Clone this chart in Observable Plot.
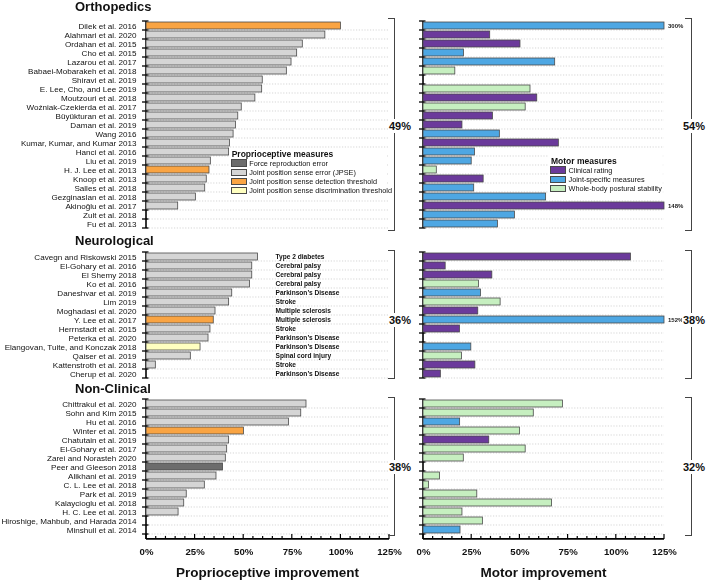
<!DOCTYPE html>
<html><head><meta charset="utf-8">
<script src="https://cdn.jsdelivr.net/npm/d3@7"></script>
<script src="https://cdn.jsdelivr.net/npm/@observablehq/plot@0.6"></script>
<style>
html,body{margin:0;padding:0;background:#fff;}
#chart{position:relative;width:708px;height:582px;overflow:hidden;font-family:"Liberation Sans",Arial,Helvetica,sans-serif;color:#111;opacity:0.999;}
.t{position:absolute;white-space:nowrap;}
</style></head><body><div id="chart"></div>
<script>
// ---------------- DATA ----------------
const sectionNames = ["Orthopedics", "Neurological", "Non-Clinical"];

const orthoStudies = ["Dilek et al. 2016","Alahmari et al. 2020","Ordahan et al. 2015","Cho et al. 2015","Lazarou et al. 2017","Babaei-Mobarakeh et al. 2018","Shiravi et al. 2019","E. Lee, Cho, and Lee 2019","Moutzouri et al. 2018","Woźniak-Czekierda et al. 2017","Büyükturan et al. 2019","Daman et al. 2019","Wang 2016","Kumar, Kumar, and Kumar 2013","Hanci et al. 2016","Liu et al. 2019","H. J. Lee et al. 2013","Knoop et al. 2013","Salles et al. 2018","Gezginaslan et al. 2018","Akinoğlu et al. 2017","Zult et al. 2018","Fu et al. 2013"];
const orthoProp     = [100, 92, 80.4, 77.5, 74.6, 72.2, 59.8, 59.5, 56, 49, 47.2, 46, 44.8, 42.9, 42.5, 33.1, 32.4, 31, 30.2, 25.4, 16.3, null, null];
const orthoPropType = ["D","J","J","J","J","J","J","J","J","J","J","J","J","J","J","J","D","J","J","J","J",null,null];
const orthoMotor     = [300, 34.6, 50.3, 21, 68.3, 16.5, null, 55.5, 59, 53, 36, 20.2, 39.6, 70.2, 26.7, 25, 6.9, 31.2, 26.3, 63.6, 148, 47.4, 38.6];
const orthoMotorType = ["J","C","C","J","J","W",null,"W","C","W","C","C","J","C","J","J","W","C","J","J","C","J","J"];

const neuroStudies = ["Cavegn and Riskowski 2015","El-Gohary et al. 2016","El Shemy 2018","Ko et al. 2016","Daneshvar et al. 2019","Lim 2019","Moghadasi et al. 2020","Y. Lee et al. 2017","Herrnstadt et al. 2015","Peterka et al. 2020","Elangovan, Tuite, and Konczak 2018","Qaiser et al. 2019","Kattenstroth et al. 2018","Cherup et al. 2020"];
const neuroProp     = [57.4, 54.4, 54.4, 53.2, 44.1, 42.5, 35.5, 34.6, 32.9, 31.9, 27.8, 22.8, 4.8, null];
const neuroPropType = ["J","J","J","J","J","J","J","D","J","J","S","J","J",null];
const neuroMotor     = [107.6, 11.5, 35.7, 28.8, 29.8, 40, 28.4, 152, 18.9, null, 24.8, 20, 26.9, 9];
const neuroMotorType = ["C","C","C","W","J","W","C","J","C",null,"J","W","C","C"];
const neuroDiseases  = ["Type 2 diabetes","Cerebral palsy","Cerebral palsy","Cerebral palsy","Parkinson’s Disease","Stroke","Multiple sclerosis","Multiple sclerosis","Stroke","Parkinson’s Disease","Parkinson’s Disease","Spinal cord injury","Stroke","Parkinson’s Disease"];

const nonStudies = ["Chittrakul et al. 2020","Sohn and Kim 2015","Hu et al. 2016","Winter et al. 2015","Chatutain et al. 2019","El-Gohary et al. 2017","Zarei and Norasteh 2020","Peer and Gleeson 2018","Alikhani et al. 2019","C. L. Lee et al. 2018","Park et al. 2019","Kalaycioglu et al. 2018","H. C. Lee et al. 2013","Hiroshige, Mahbub, and Harada 2014","Minshull et al. 2014"];
const nonProp     = [82.3, 79.6, 73.3, 50.1, 42.5, 41.5, 40.8, 39.4, 36, 30, 20.7, 19.4, 16.5, null, null];
const nonPropType = ["J","J","J","D","J","J","J","F","J","J","J","J","J",null,null];
const nonMotor     = [72.3, 57.2, 19, 50, 34.1, 53, 20.9, null, 8.6, 2.9, 27.9, 66.7, 20.2, 30.8, 19.2];
const nonMotorType = ["W","W","J","W","C","W","W",null,"W","W","W","W","W","W","J"];

const propSummary  = ["49%", "36%", "38%"];
const motorSummary = ["54%", "38%", "32%"];

const xTicks = [0, 25, 50, 75, 100, 125];
const propKeys   = ["F","J","D","S"];
const propLabels = ["Force reproduction error","Joint position sense error (JPSE)","Joint position sense detection threshold","Joint position sense discrimination threshold"];
const propColors = ["#6c6c6c","#d5d5d5","#f9a443","#ffffc0"];
const motorKeys   = ["C","J","W"];
const motorLabels = ["Clinical rating","Joint-specific measures","Whole-body postural stability"];
const motorColors = ["#6b3a9b","#4ea7e3","#c6efc0"];
const xTitles = ["Proprioceptive improvement", "Motor improvement"];
const legendTitles = ["Proprioceptive measures", "Motor measures"];

// ---------------- LAYOUT ----------------
const XMAX = 125;
const FONT = '"Liberation Sans", Arial, Helvetica, sans-serif';
const panels = [
  {left: 0,   w: 400, ml: 146, mr: 11, bracketX: 395.5, labelX: 400},
  {left: 400, w: 308, ml: 23,  mr: 44, bracketX: 693,   labelX: 694}
];
const bands = [[18.4, 231.4], [249.7, 379.3], [397.1, 536.2]];
const bracketLabelY = [125.5, 320, 467];
const titleY = [6.5, 241, 389.3];
const axisLineY = 539;

const sections = [
  {studies: orthoStudies, prop: orthoProp, propType: orthoPropType, motor: orthoMotor, motorType: orthoMotorType},
  {studies: neuroStudies, prop: neuroProp, propType: neuroPropType, motor: neuroMotor, motorType: neuroMotorType, diseases: neuroDiseases},
  {studies: nonStudies, prop: nonProp, propType: nonPropType, motor: nonMotor, motorType: nonMotorType}
];

const chart = document.getElementById("chart");

function txt(str, x, yc, size, weight, anchor, extra) {
  const d = document.createElement("div");
  d.className = "t";
  d.textContent = str;
  const lh = Math.round(size * 1.25);
  d.style.left = x + "px";
  d.style.top = (yc - lh / 2) + "px";
  d.style.fontSize = size + "px";
  d.style.lineHeight = lh + "px";
  d.style.fontWeight = weight;
  if (anchor === "middle") d.style.transform = "translateX(-50%)";
  if (anchor === "end") d.style.transform = "translateX(-100%)";
  if (extra) Object.assign(d.style, extra);
  chart.appendChild(d);
  return d;
}

function frameMark(isLast) {
  return (index, scales, values, dims) => {
    const x = scales.x, y = scales.y;
    const dom = y.domain();
    let st = typeof y.step === "function" ? y.step() : (typeof y.step === "number" ? y.step : null);
    if (st == null) st = dom.length > 1 ? y(dom[1]) - y(dom[0]) : 10;
    let bw = typeof y.bandwidth === "function" ? y.bandwidth() : (typeof y.bandwidth === "number" ? y.bandwidth : st * 0.8);
    const b = dom.map(d => y(d) + bw / 2 - st / 2);
    b.push(b[b.length - 1] + st);
    const x0 = x(0), x1 = x(XMAX);
    const g = d3.create("svg:g");
    g.selectAll("line.grid").data(b.slice(1)).join("line")
      .attr("x1", x0).attr("x2", x1).attr("y1", d => d).attr("y2", d => d)
      .attr("stroke", "#c4c4c4").attr("stroke-width", 0.7).attr("stroke-dasharray", "1.2,1.6");
    const yEnd = isLast ? dims.height - dims.marginBottom : b[b.length - 1];
    g.selectAll("line.tk").data(b).join("line")
      .attr("x1", x0 - 4).attr("x2", x0 + 2.5).attr("y1", d => d).attr("y2", d => d)
      .attr("stroke", "#000").attr("stroke-width", 1.3);
    g.append("line").attr("x1", x0).attr("x2", x0).attr("y1", b[0]).attr("y2", yEnd)
      .attr("stroke", "#000").attr("stroke-width", 1.6);
    if (isLast) {
      g.append("line").attr("x1", x0).attr("x2", x1).attr("y1", yEnd).attr("y2", yEnd)
        .attr("stroke", "#000").attr("stroke-width", 1.6);
      const minor = d3.range(0, XMAX + 0.1, 5);
      g.selectAll("line.mt").data(minor).join("line")
        .attr("x1", d => x(d)).attr("x2", d => x(d))
        .attr("y1", yEnd).attr("y2", d => yEnd - (d % 25 === 0 ? 5 : 3))
        .attr("stroke", "#000").attr("stroke-width", 1.2);
    }
    return g.node();
  };
}

function sectionPlot(p, si, vals, types, keys, colors) {
  const panel = panels[p];
  const s = sections[si];
  const isLast = si === sections.length - 1;
  const [b0, b1] = bands[si];
  const top = b0 - 8;
  const bandH = b1 - b0;
  const height = isLast ? Math.round(582 - top) : Math.round(bandH + 16);
  const mb = isLast ? height - (axisLineY - top) : height - 8 - bandH;
  const rows = s.studies.map((st, k) => ({study: st, v: vals[k], type: types[k], disease: s.diseases ? s.diseases[k] : null}));
  const bars = rows.filter(r => r.v != null);
  const marks = [
    frameMark(isLast),
    Plot.barX(bars, {y: "study", x1: 0, x2: r => Math.min(r.v, XMAX), fill: "type", stroke: "#4a4a4a", strokeWidth: 0.8}),
    Plot.text(bars.filter(r => r.v > XMAX), {y: "study", x: XMAX, text: r => r.v + "%", dx: 3.5, textAnchor: "start", fontSize: 6, fontWeight: "bold", fill: "#222"})
  ];
  if (p === 0) {
    marks.push(Plot.axisY({tickSize: 0, tickPadding: 10, fontSize: 8.1, label: null}));
    if (s.diseases) {
      marks.push(Plot.text(rows, {y: "study", text: "disease", frameAnchor: "left", dx: 129, textAnchor: "start", fontSize: 6.6, fontWeight: "bold", fill: "#111"}));
    }
  }
  if (isLast) {
    marks.push(Plot.axisX({ticks: xTicks, tickFormat: d => d + "%", tickSize: 0, tickPadding: 9, fontSize: 9.6, fontWeight: "bold", label: null}));
  }
  const svg = Plot.plot({
    width: panel.w, height,
    marginLeft: panel.ml, marginRight: panel.mr, marginTop: 8, marginBottom: mb,
    x: Object.assign({domain: [0, XMAX]}, isLast ? {} : {axis: null}),
    y: Object.assign({domain: s.studies, range: [8, 8 + bandH], paddingInner: 0.2, paddingOuter: 0.1}, p === 0 ? {} : {axis: null}),
    color: {domain: keys, range: colors},
    style: {fontFamily: FONT, color: "#111", background: "transparent", overflow: "visible"},
    marks
  });
  svg.style.position = "absolute";
  svg.style.left = panel.left + "px";
  svg.style.top = top + "px";
  svg.style.maxWidth = "none";
  chart.appendChild(svg);
}

sections.forEach((s, si) => {
  sectionPlot(0, si, s.prop, s.propType, propKeys, propColors);
  sectionPlot(1, si, s.motor, s.motorType, motorKeys, motorColors);
  txt(sectionNames[si], 75, titleY[si], 13, "bold", "start");
});

[propSummary, motorSummary].forEach((summ, p) => {
  const panel = panels[p];
  summ.forEach((lab, si) => {
    const [b0, b1] = bands[si];
    const d = document.createElement("div");
    d.style.cssText = `position:absolute;left:${panel.bracketX - 8}px;top:${b0}px;width:7px;height:${b1 - b0}px;border:1.5px solid #444;border-left:none;box-sizing:border-box;`;
    chart.appendChild(d);
    txt(lab, panel.labelX, bracketLabelY[si], 11, "bold", "middle", {background: "#fff", padding: "0 1px"});
  });
});

function legend(x, yTitle, title, labels, colors, w) {
  const n = labels.length;
  const bg = document.createElement("div");
  bg.style.cssText = `position:absolute;left:${x - 2}px;top:${yTitle - 6}px;width:${w}px;height:${11 + n * 9.2}px;background:#fff;`;
  chart.appendChild(bg);
  txt(title, x + 1, yTitle, 8.5, "bold", "start");
  labels.forEach((lab, k) => {
    const yc = yTitle + 9.2 + k * 9.1;
    const sw = document.createElement("div");
    sw.style.cssText = `position:absolute;left:${x}px;top:${yc - 3.8}px;width:16px;height:7.6px;background:${colors[k]};border:1px solid #4a4a4a;box-sizing:border-box;`;
    chart.appendChild(sw);
    txt(lab, x + 18.5, yc, 7.3, "normal", "start");
  });
}
legend(230.7, 154, legendTitles[0], propLabels, propColors, 158);
legend(550, 161, legendTitles[1], motorLabels, motorColors, 114);

txt(xTitles[0], 267.5, 572, 13.5, "bold", "middle");
txt(xTitles[1], 543.5, 572, 13.5, "bold", "middle");
</script></body></html>
